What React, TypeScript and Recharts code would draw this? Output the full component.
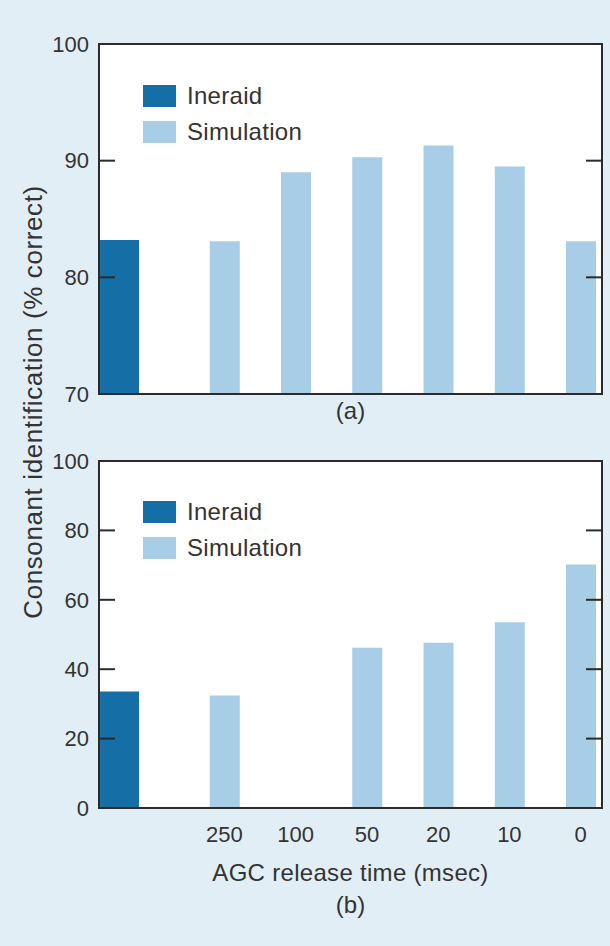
import { BarChart, Bar, XAxis, YAxis, Legend, Label, CartesianGrid } from "recharts";

// AGC release times (msec), left to right
const releaseTimes = ["250", "100", "50", "20", "10", "0"];

// (a) consonant identification, % correct
const ineraidA = 83.2;
const simulationA = [83.1, 89.0, 90.3, 91.3, 89.5, 83.1];
const ticksA = [70, 80, 90, 100];

// (b) consonant identification, % correct (no 100 msec run)
const ineraidB = 33.6;
const simulationB = [32.4, null, 46.2, 47.6, 53.5, 70.2];
const ticksB = [0, 20, 40, 60, 80, 100];

const INERAID_COLOR = "#156fa6";
const SIM_COLOR = "#a8cee7";
const INK = "#333";
const FRAME = "#2b2b2b";
const BG = "#e2eef6";

// numeric x axis: Ineraid sits at 0, release times follow after a wider gap
const SIM_START = 1.47;
const X_DOMAIN: [number, number] = [-0.29, 6.77];
const simTicks = releaseTimes.map((_, i) => SIM_START + i);

const frame = { stroke: FRAME, strokeWidth: 2, strokeLinecap: "square" as const };
const innerTick = { stroke: FRAME, strokeWidth: 2 };
const noText = () => "";

function buildRows(ineraid: number, sims: (number | null)[]) {
  return [
    { x: 0, ineraid },
    ...sims.map((v, i) => ({ x: SIM_START + i, simulation: v })),
  ];
}

// left axis tick: label outside the frame, short mark pointing into the plot
function LeftTick({ x, y, payload }: any) {
  return (
    <g>
      <line x1={x} x2={x + 16} y1={y} y2={y} stroke={FRAME} strokeWidth={2} />
      <text x={x - 10} y={y} dy="0.355em" textAnchor="end" fontSize={22} fill={INK}>
        {payload.value}
      </text>
    </g>
  );
}

function LegendBox({ payload }: any) {
  return (
    <div>
      {(payload ?? []).map((e: any) => (
        <div key={e.value} style={{ display: "flex", alignItems: "center", height: 36 }}>
          <span style={{ width: 33, height: 22, background: e.color, marginRight: 11 }} />
          <span style={{ fontSize: 24, color: INK, letterSpacing: 0.3 }}>{e.value}</span>
        </div>
      ))}
    </div>
  );
}

function Panel({
  rows,
  yDomain,
  yTicks,
  height,
  top,
  axisHeight,
  showTimes,
  legendTop,
  children,
}: any) {
  return (
    <BarChart width={610} height={height} data={rows} margin={{ top, right: 8, left: 0, bottom: 0 }}>
      <CartesianGrid xAxisId="sim" yAxisId="v" horizontal={false} vertical={false} fill="#fff" />
      <XAxis
        xAxisId="sim"
        type="number"
        dataKey="x"
        domain={X_DOMAIN}
        allowDataOverflow
        ticks={simTicks}
        interval={0}
        tickFormatter={(v) => (showTimes ? releaseTimes[Math.round(v - SIM_START)] : "")}
        height={axisHeight}
        tick={{ fontSize: 22, fill: INK }}
        tickLine={false}
        tickSize={6}
        tickMargin={12}
        axisLine={frame}
      >
        {children}
      </XAxis>
      <XAxis xAxisId="ine" type="number" dataKey="x" domain={X_DOMAIN} allowDataOverflow height={0} hide />
      <XAxis
        xAxisId="top"
        orientation="top"
        mirror
        type="number"
        dataKey="x"
        domain={X_DOMAIN}
        allowDataOverflow
        height={1}
        tickFormatter={noText}
        tickLine={false}
        axisLine={frame}
      />
      <YAxis
        yAxisId="v"
        type="number"
        domain={yDomain}
        ticks={yTicks}
        interval={0}
        allowDataOverflow
        width={99}
        tickLine={false}
        tickSize={0}
        tickMargin={0}
        tick={<LeftTick />}
        axisLine={frame}
      />
      <YAxis
        yAxisId="rt"
        orientation="right"
        type="number"
        domain={yDomain}
        ticks={yTicks}
        interval={0}
        allowDataOverflow
        mirror
        width={1}
        tickFormatter={noText}
        tickSize={16}
        tickLine={innerTick}
        axisLine={frame}
      />
      <Legend
        layout="horizontal"
        verticalAlign="middle"
        align="center"
        wrapperStyle={{ top: legendTop, left: 143, width: 220 }}
        content={LegendBox}
      />
      <Bar
        xAxisId="ine"
        yAxisId="v"
        dataKey="ineraid"
        name="Ineraid"
        fill={INERAID_COLOR}
        barSize={39}
        isAnimationActive={false}
      />
      <Bar
        xAxisId="sim"
        yAxisId="v"
        dataKey="simulation"
        name="Simulation"
        fill={SIM_COLOR}
        barSize={30}
        isAnimationActive={false}
      />
    </BarChart>
  );
}

export default function App() {
  return (
    <div
      style={{
        position: "absolute",
        left: 0,
        top: 0,
        width: 610,
        height: 946,
        overflow: "hidden",
        background: BG,
        fontFamily: "'Liberation Sans', Arial, sans-serif",
        color: INK,
      }}
    >
      <div style={{ position: "absolute", left: 0, top: 0 }}>
        <Panel
          rows={buildRows(ineraidA, simulationA)}
          yDomain={[70, 100]}
          yTicks={ticksA}
          height={430}
          top={44}
          axisHeight={36}
          showTimes={false}
          legendTop={78}
        >
          <Label value="(a)" position="insideBottom" offset={11} fontSize={24} fill={INK} />
        </Panel>
      </div>
      <div style={{ position: "absolute", left: 0, top: 430 }}>
        <Panel
          rows={buildRows(ineraidB, simulationB)}
          yDomain={[0, 100]}
          yTicks={ticksB}
          height={516}
          top={31}
          axisHeight={138}
          showTimes
          legendTop={64}
        >
          <Label
            value="AGC release time (msec)"
            position="insideBottom"
            offset={65}
            fontSize={24}
            letterSpacing={0.3}
            fill={INK}
          />
          <Label value="(b)" position="insideBottom" offset={33} fontSize={24} fill={INK} />
        </Panel>
      </div>
      <div
        style={{
          position: "absolute",
          left: 33 - 300,
          top: 402 - 15,
          width: 600,
          height: 30,
          lineHeight: "30px",
          textAlign: "center",
          fontSize: 26,
          letterSpacing: 0.6,
          transform: "rotate(-90deg)",
          whiteSpace: "nowrap",
        }}
      >
        Consonant identification (% correct)
      </div>
    </div>
  );
}
